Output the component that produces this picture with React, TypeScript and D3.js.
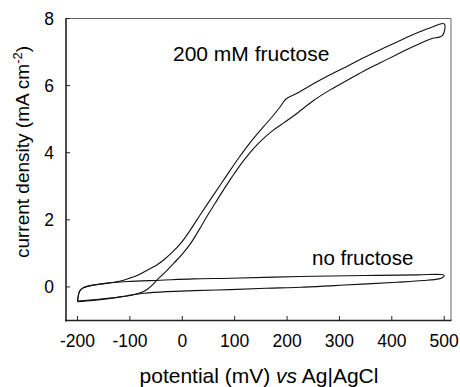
import React, { useEffect, useRef } from 'react';
import * as d3 from 'd3';

// 200 mM fructose loop, upper (left) branch going out to 500 mV
const fructoseUpperV = [-200, -198, -195, -188, -175, -150, -120, -99, -85, -67, -50, -35, -20, -3, 12, 28, 44, 60, 76, 92, 108, 124, 140, 156, 172, 187, 198, 220, 251, 283, 315, 346, 378, 410, 441, 470, 500];
const fructoseUpperJ = [-0.42, -0.22, -0.1, -0.02, 0.04, 0.1, 0.17, 0.27, 0.35, 0.5, 0.64, 0.81, 1.02, 1.3, 1.62, 2.0, 2.38, 2.75, 3.12, 3.49, 3.85, 4.19, 4.5, 4.79, 5.08, 5.37, 5.6, 5.78, 6.06, 6.33, 6.58, 6.83, 7.07, 7.3, 7.52, 7.7, 7.84];
// lower (right) branch coming back to -200 mV
const fructoseLowerV = [497, 474, 442, 410, 378, 346, 315, 283, 250, 216, 190, 175, 159, 143, 127, 111, 95, 79, 63, 47, 32, 16, 0, -16, -32, -48, -57, -66, -76, -90, -105, -137, -170, -200];
const fructoseLowerJ = [7.5, 7.39, 7.17, 6.93, 6.68, 6.43, 6.16, 5.88, 5.55, 5.14, 4.85, 4.69, 4.48, 4.24, 3.96, 3.64, 3.28, 2.9, 2.5, 2.1, 1.7, 1.3, 0.98, 0.71, 0.45, 0.21, 0.06, -0.06, -0.15, -0.22, -0.27, -0.33, -0.38, -0.42];

// no fructose loop
const blankUpperV = [-200, -198, -195, -188, -175, -150, -105, -42, 21, 92, 225, 350, 450, 494, 500];
const blankUpperJ = [-0.44, -0.22, -0.1, -0.02, 0.04, 0.1, 0.16, 0.2, 0.24, 0.26, 0.31, 0.34, 0.36, 0.37, 0.34];
const blankLowerV = [497, 490, 460, 410, 353, 290, 225, 160, 92, 22, -30, -73, -105, -137, -170, -200];
const blankLowerJ = [0.28, 0.24, 0.19, 0.14, 0.09, 0.04, -0.01, -0.04, -0.08, -0.11, -0.14, -0.19, -0.26, -0.34, -0.4, -0.44];

const xTicks = [-200, -100, 0, 100, 200, 300, 400, 500];
const yTicks = [0, 2, 4, 6, 8];

const W = 460;
const H = 387;

const App = () => {
  const ref = useRef<SVGSVGElement>(null);

  useEffect(() => {
    const svg = d3.select(ref.current);
    svg.selectAll('*').remove();

    const x = d3.scaleLinear().domain([-222, 513]).range([66, 451]);
    const y = d3.scaleLinear().domain([-1, 8]).range([320.5, 18.5]);
    const font = 'Liberation Sans, Arial, sans-serif';

    // frame
    svg.append('line').attr('x1', 66).attr('x2', 451).attr('y1', 18.5).attr('y2', 18.5)
      .attr('stroke', '#666').attr('stroke-width', 1);
    svg.append('line').attr('x1', 451).attr('x2', 451).attr('y1', 18.5).attr('y2', 320.5)
      .attr('stroke', '#666').attr('stroke-width', 1);
    svg.append('line').attr('x1', 66).attr('x2', 66).attr('y1', 18).attr('y2', 321.5)
      .attr('stroke', '#222').attr('stroke-width', 1.6);
    svg.append('line').attr('x1', 65).attr('x2', 451.5).attr('y1', 320.5).attr('y2', 320.5)
      .attr('stroke', '#222').attr('stroke-width', 1.6);

    // ticks, pointing inward
    yTicks.forEach(t => {
      svg.append('line').attr('x1', 66).attr('x2', 70).attr('y1', y(t)).attr('y2', y(t))
        .attr('stroke', '#222');
      svg.append('text').attr('x', 54).attr('y', y(t)).attr('text-anchor', 'end')
        .attr('dominant-baseline', 'central').attr('font-family', font).attr('font-size', 17.5)
        .text(t);
    });
    xTicks.forEach(t => {
      svg.append('line').attr('x1', x(t)).attr('x2', x(t)).attr('y1', 320.5).attr('y2', 316)
        .attr('stroke', '#222');
      svg.append('text').attr('x', x(t)).attr('y', 347).attr('text-anchor', 'middle')
        .attr('font-family', font).attr('font-size', 17.5)
        .text(t);
    });

    // curves
    const line = d3.line<[number, number]>()
      .x(d => x(d[0]))
      .y(d => y(d[1]))
      .curve(d3.curveCatmullRom.alpha(0.5));

    const loops = [
      [...fructoseUpperV.map((v, i) => [v, fructoseUpperJ[i]]), ...fructoseLowerV.map((v, i) => [v, fructoseLowerJ[i]])],
      [...blankUpperV.map((v, i) => [v, blankUpperJ[i]]), ...blankLowerV.map((v, i) => [v, blankLowerJ[i]])],
    ] as [number, number][][];

    loops.forEach(pts => {
      svg.append('path').attr('d', line(pts)).attr('fill', 'none')
        .attr('stroke', '#111').attr('stroke-width', 1.1);
    });

    // annotations
    svg.append('text').attr('x', 173).attr('y', 61).attr('font-family', font).attr('font-size', 21)
      .text('200 mM fructose');
    svg.append('text').attr('x', 312).attr('y', 265).attr('font-family', font).attr('font-size', 20.5)
      .text('no fructose');

    // axis titles
    const xt = svg.append('text').attr('x', 259).attr('y', 383).attr('text-anchor', 'middle')
      .attr('font-family', font).attr('font-size', 21);
    xt.append('tspan').text('potential (mV) ');
    xt.append('tspan').attr('font-style', 'italic').text('vs');
    xt.append('tspan').text(' Ag|AgCl');

    const yt = svg.append('text').attr('transform', 'translate(29,152) rotate(-90)')
      .attr('text-anchor', 'middle').attr('font-family', font).attr('font-size', 19);
    yt.append('tspan').text('current density (mA cm');
    yt.append('tspan').attr('font-size', 13).attr('dy', -7).text('-2');
    yt.append('tspan').attr('dy', 7).text(')');
  }, []);

  return (
    <svg ref={ref} width={W} height={H} style={{ position: 'absolute', left: 0, top: 0, background: '#fff' }} />
  );
};

export default App;
